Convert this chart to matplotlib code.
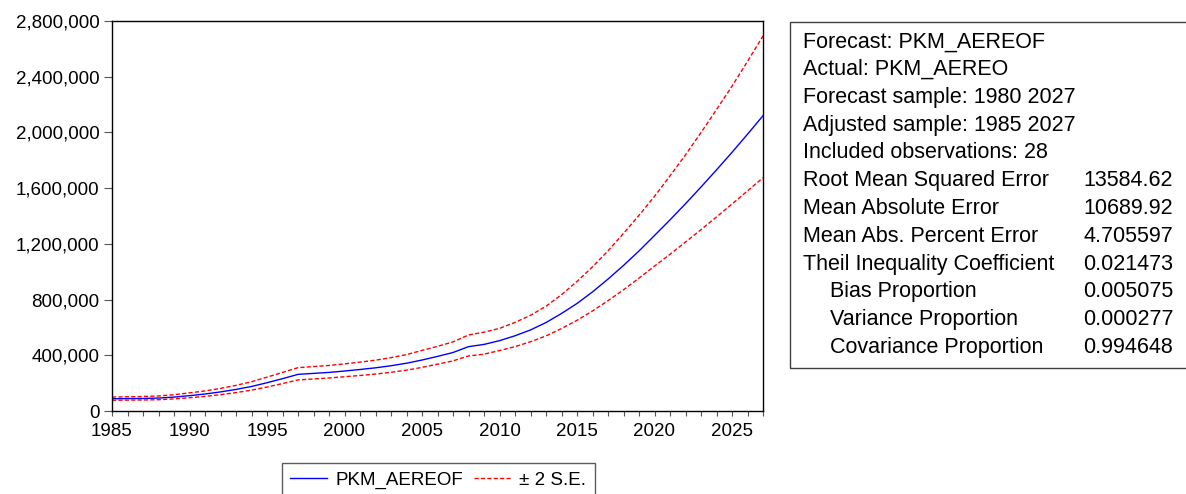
import matplotlib
matplotlib.use("Agg")
import matplotlib.pyplot as plt
from matplotlib.ticker import MultipleLocator, FuncFormatter
from matplotlib.patches import Rectangle

plt.rcParams['font.family'] = ['Liberation Sans', 'DejaVu Sans']
plt.rcParams['lines.scale_dashes'] = False

# Forecast of PKM_AEREO (thousands of passenger-km) with +/- 2 S.E. band
years = list(range(1985, 2028))
forecast_k = [88, 89, 90, 93, 100, 110, 122, 137, 155, 176,
              203, 232, 263, 270, 277, 287, 298, 310, 325, 343,
              366, 392, 420, 462, 478, 505, 540, 582, 635, 700,
              772, 855, 947, 1045, 1149, 1260, 1372, 1488, 1608, 1731,
              1857, 1987, 2120]
upper_k = [100, 102, 104, 108, 117, 130, 144, 162, 184, 210,
           243, 277, 311, 319, 327, 338, 351, 365, 383, 405,
           435, 464, 496, 546, 566, 593, 636, 687, 752, 835,
           930, 1035, 1150, 1275, 1405, 1541, 1688, 1839, 1999, 2164,
           2332, 2510, 2692]
lower_k = [77, 78, 79, 81, 87, 95, 105, 117, 132, 150,
           172, 197, 223, 230, 237, 246, 255, 265, 278, 293,
           313, 336, 360, 395, 408, 434, 462, 497, 539, 592,
           651, 718, 792, 870, 954, 1040, 1125, 1213, 1302, 1393,
           1486, 1580, 1675]

forecast = [v * 1000 for v in forecast_k]
upper = [v * 1000 for v in upper_k]
lower = [v * 1000 for v in lower_k]

# (label, value, indented)
stat_labels = ["Forecast: PKM_AEREOF",
               "Actual: PKM_AEREO",
               "Forecast sample: 1980 2027",
               "Adjusted sample: 1985 2027",
               "Included observations: 28",
               "Root Mean Squared Error",
               "Mean Absolute Error",
               "Mean Abs. Percent Error",
               "Theil Inequality Coefficient",
               "Bias Proportion",
               "Variance Proportion",
               "Covariance Proportion"]
stat_values = ["", "", "", "", "",
               "13584.62", "10689.92", "4.705597", "0.021473",
               "0.005075", "0.000277", "0.994648"]
stat_indent = [False] * 9 + [True] * 3

W, H = 1186, 494
fig = plt.figure(figsize=(W / 100, H / 100), dpi=100)
ax = fig.add_axes([112 / W, 1 - 411 / H, (763 - 112) / W, (411 - 21) / H])

ax.plot(years, forecast, color='#0000ff', lw=1.0, label='PKM_AEREOF')
ax.plot(years, upper, color='#ff0000', lw=1.0, dashes=(3.0, 1.6),
        label='\u00b1 2 S.E.')
ax.plot(years, lower, color='#ff0000', lw=1.0, dashes=(3.0, 1.6))

ax.set_xlim(1985, 2027)
ax.set_ylim(0, 2800000)
ax.yaxis.set_major_locator(MultipleLocator(400000))
ax.yaxis.set_major_formatter(FuncFormatter(lambda v, p: f"{int(v):,}"))
ax.xaxis.set_major_locator(MultipleLocator(5))
ax.xaxis.set_minor_locator(MultipleLocator(1))

for s in ax.spines.values():
    s.set_linewidth(1.0)
    s.set_color('black')

ax.tick_params(axis='y', which='major', direction='out', length=5.5, width=0.8,
               color='#555555', pad=3.5, labelsize=13.5, left=True, right=False)
ax.tick_params(axis='x', which='both', direction='out', length=3.5, width=0.8,
               color='#555555', pad=5, labelsize=13.5, bottom=True, top=False)

leg = fig.legend(loc='upper left', bbox_to_anchor=(282 / W, 1 - 463 / H),
                 ncol=2, fontsize=13.5, frameon=True, fancybox=False,
                 handlelength=1.95, handletextpad=0.45, columnspacing=0.6,
                 borderpad=0.45, borderaxespad=0.0)
leg.get_frame().set_edgecolor('#333333')
leg.get_frame().set_linewidth(1.0)

# statistics panel
fig.patches.append(Rectangle((790 / W, 1 - 368 / H), (W + 10 - 790) / W,
                             (368 - 21.7) / H, transform=fig.transFigure,
                             fill=False, edgecolor='#404040', lw=1.0))
for i, (lab, val, ind) in enumerate(zip(stat_labels, stat_values, stat_indent)):
    y = 1 - (41.7 + 27.8 * i) / H
    x = 830 if ind else 802.7
    fig.text(x / W, y, lab, fontsize=15.5, va='center', ha='left')
    if val:
        fig.text(1083 / W, y, val, fontsize=15.5, va='center', ha='left')

fig.savefig('out.png', dpi=100)
